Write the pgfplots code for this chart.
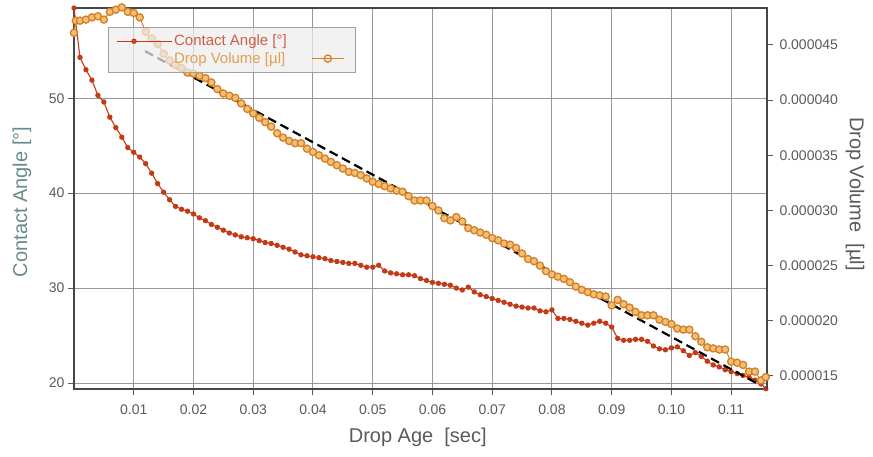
\documentclass[border=0pt]{standalone}
\usepackage{pgfplots}
\pgfplotsset{compat=1.18}
\usepackage{fontspec}
\setmainfont{Liberation Sans}
\definecolor{ca}{RGB}{196,58,22}
\definecolor{catext}{RGB}{205,95,70}
\definecolor{dv}{RGB}{212,128,36}
\definecolor{dvfill}{RGB}{242,190,120}
\definecolor{dvtext}{RGB}{226,160,80}
\definecolor{tickc}{RGB}{90,90,90}
\definecolor{framec}{RGB}{70,70,70}
\definecolor{gridc}{RGB}{150,150,150}
\definecolor{labc}{RGB}{105,138,138}
\begin{document}
\begin{tikzpicture}
\useasboundingbox (-74bp,-68bp) rectangle (799bp,389bp);
\begin{axis}[
  at={(0,0)}, anchor=south west,
  scale only axis, width=693bp, height=381bp,
  xmin=0, xmax=0.116, ymin=19.37, ymax=59.5,
  clip=false,
  xtick={0.01,0.02,0.03,0.04,0.05,0.06,0.07,0.08,0.09,0.10,0.11},
  xticklabels={0.01,0.02,0.03,0.04,0.05,0.06,0.07,0.08,0.09,0.10,0.11},
  ytick={20,30,40,50}, yticklabels={20,30,40,50},
  xtick pos=bottom, ytick pos=left,
  tick align=outside, major tick length=6bp,
  tick style={tickc, line width=1bp},
  grid=major, major grid style={gridc, line width=1bp},
  axis line style={framec, line width=1.3bp},
  ticklabel style={font=\fontsize{14bp}{16bp}\selectfont, text=tickc},
  xticklabel style={yshift=-6bp},
  xlabel={Drop Age\ \ [sec]},
  ylabel={Contact Angle [°]},
  xlabel style={font=\fontsize{20bp}{24bp}\selectfont, text=tickc, at={(axis description cs:0.496,-0.126)}, anchor=center},
  ylabel style={font=\fontsize{20bp}{24bp}\selectfont, text=labc, at={(axis description cs:-0.075,0.491)}, anchor=center},
]
\addplot[ca, line width=1.1bp, mark=*, mark size=2.1bp, mark options={fill=ca, draw=ca}] coordinates {
(0.000,59.5)(0.001,54.3)(0.002,53.0)(0.003,51.9)(0.004,50.3)(0.005,49.6)(0.006,48.0)(0.007,46.9)(0.008,45.9)(0.009,44.8)(0.010,44.3)(0.011,43.8)(0.012,43.1)(0.013,42.1)(0.014,41.0)(0.015,40.1)(0.016,39.3)(0.017,38.6)(0.018,38.3)(0.019,38.1)(0.020,37.8)(0.021,37.4)(0.022,37.1)(0.023,36.7)(0.024,36.4)(0.025,36.1)(0.026,35.8)(0.027,35.6)(0.028,35.4)(0.029,35.3)(0.030,35.2)(0.031,35.0)(0.032,34.8)(0.033,34.7)(0.034,34.5)(0.035,34.3)(0.036,34.1)(0.037,33.8)(0.038,33.5)(0.039,33.4)(0.040,33.3)(0.041,33.2)(0.042,33.1)(0.043,32.9)(0.044,32.8)(0.045,32.7)(0.046,32.6)(0.047,32.6)(0.048,32.4)(0.049,32.2)(0.050,32.2)(0.051,32.4)(0.052,31.8)(0.053,31.6)(0.054,31.5)(0.055,31.4)(0.056,31.4)(0.057,31.3)(0.058,31.0)(0.059,30.8)(0.060,30.6)(0.061,30.5)(0.062,30.4)(0.063,30.3)(0.064,30.0)(0.065,29.8)(0.066,30.1)(0.067,29.6)(0.068,29.3)(0.069,29.1)(0.070,28.9)(0.071,28.7)(0.072,28.5)(0.073,28.3)(0.074,28.1)(0.075,28.0)(0.076,27.9)(0.077,27.9)(0.078,27.6)(0.079,27.5)(0.080,27.7)(0.081,26.8)(0.082,26.8)(0.083,26.7)(0.084,26.5)(0.085,26.3)(0.086,26.1)(0.087,26.3)(0.088,26.5)(0.089,26.3)(0.090,25.9)(0.091,24.7)(0.092,24.5)(0.093,24.5)(0.094,24.6)(0.095,24.6)(0.096,24.4)(0.097,23.9)(0.098,23.6)(0.099,23.5)(0.100,23.7)(0.101,23.8)(0.102,23.4)(0.103,22.9)(0.104,23.2)(0.105,22.8)(0.106,22.3)(0.107,21.9)(0.108,21.7)(0.109,21.4)(0.110,21.2)(0.111,21.0)(0.112,20.8)(0.113,20.6)(0.114,20.3)(0.115,19.9)(0.1158,19.4)
};
\end{axis}
\begin{axis}[
  at={(0,0)}, anchor=south west,
  scale only axis, width=693bp, height=381bp,
  xmin=0, xmax=0.116, ymin=13.82, ymax=48.35,
  clip=false,
  axis x line=none,
  axis y line*=right,
  ytick={15,20,25,30,35,40,45},
  yticklabels={0.000015,0.000020,0.000025,0.000030,0.000035,0.000040,0.000045},
  tick align=outside, major tick length=6bp,
  tick style={tickc, line width=1bp},
  axis line style={framec, line width=1.3bp},
  ticklabel style={font=\fontsize{14bp}{16bp}\selectfont, text=tickc},
  yticklabel style={xshift=3bp},
  ylabel={Drop Volume\ \ [µl]},
  ylabel style={font=\fontsize{20bp}{24bp}\selectfont, text=tickc, rotate=180, at={(axis description cs:1.127,0.512)}, anchor=center},
  legend columns=2,
  legend cell align=left,
  legend style={at={(axis description cs:0.049,0.950)}, anchor=north west,
    fill=gray!14, fill opacity=0.72, text opacity=1, draw=gray!75, line width=1bp,
    font=\fontsize{15bp}{17bp}\selectfont, inner xsep=8bp, inner ysep=5bp,
    /tikz/every even column/.append style={column sep=23bp},
    nodes={inner xsep=1.5bp, inner ysep=2.5bp}},
]
\addlegendimage{ca, line width=1.1bp, mark=*, mark size=2.1bp, mark options={fill=ca, draw=ca},
  legend image code/.code={\draw[ca, line width=1.2bp, mark repeat=2,mark phase=2] plot coordinates {(0bp,0bp)(17bp,0bp)(34bp,0bp)};\path (0bp,0bp) -- (55bp,0bp);}}
\addlegendentry[text=catext]{Contact Angle [°]}
\addlegendimage{empty legend}
\addlegendentry{\mbox{}}
\addlegendimage{empty legend}
\addlegendentry[text=dvtext]{Drop Volume [µl]}
\addlegendimage{dv, line width=1bp, mark=o, mark size=3.6bp, mark options={fill=dvfill, draw=dv, line width=1.3bp},
  legend image code/.code={\draw[dv, line width=1bp, mark repeat=2,mark phase=2] plot coordinates {(0bp,0bp)(16bp,0bp)(32bp,0bp)};}}
\addlegendentry{\mbox{}}
\addplot[dv, line width=1bp, mark=*, mark size=3.6bp, mark options={fill=dvfill, draw=dv, line width=1.3bp}, forget plot] coordinates {
(0.0000,46.1)(0.0003,47.2)(0.001,47.2)(0.002,47.3)(0.003,47.5)(0.004,47.6)(0.005,47.3)(0.006,48.0)(0.007,48.2)(0.008,48.4)(0.009,48.0)(0.010,47.9)(0.011,47.5)(0.012,46.2)(0.013,45.6)(0.014,45.1)(0.015,44.2)(0.016,43.6)(0.017,43.2)(0.018,42.9)(0.019,42.5)(0.020,42.4)(0.021,42.2)(0.022,42.0)(0.023,41.6)(0.024,41.0)(0.025,40.6)(0.026,40.4)(0.027,40.2)(0.028,39.7)(0.029,39.2)(0.030,38.8)(0.031,38.4)(0.032,38.0)(0.033,37.6)(0.034,37.0)(0.035,36.6)(0.036,36.3)(0.037,36.1)(0.038,36.1)(0.039,35.6)(0.040,35.3)(0.041,35.0)(0.042,34.7)(0.043,34.4)(0.044,34.1)(0.045,33.8)(0.046,33.5)(0.047,33.4)(0.048,33.2)(0.049,32.9)(0.050,32.6)(0.051,32.4)(0.052,32.2)(0.053,32.0)(0.054,31.8)(0.055,31.7)(0.056,31.3)(0.057,30.9)(0.058,30.9)(0.059,30.9)(0.060,30.4)(0.061,30.0)(0.062,29.3)(0.063,29.1)(0.064,29.4)(0.065,29.0)(0.066,28.4)(0.067,28.2)(0.068,28.0)(0.069,27.8)(0.070,27.5)(0.071,27.3)(0.072,27.0)(0.073,26.9)(0.074,26.6)(0.075,26.1)(0.076,25.6)(0.077,25.4)(0.078,25.0)(0.079,24.5)(0.080,24.2)(0.081,24.0)(0.082,23.8)(0.083,23.5)(0.084,23.1)(0.085,22.8)(0.086,22.6)(0.087,22.4)(0.088,22.3)(0.089,22.2)(0.090,21.4)(0.091,21.9)(0.092,21.5)(0.093,21.2)(0.094,20.8)(0.095,20.5)(0.096,20.5)(0.097,20.5)(0.098,20.1)(0.099,19.9)(0.100,19.7)(0.101,19.3)(0.102,19.2)(0.103,19.2)(0.104,18.6)(0.105,18.1)(0.106,17.6)(0.107,17.5)(0.108,17.4)(0.109,17.4)(0.110,16.3)(0.111,16.2)(0.112,16.0)(0.113,15.4)(0.114,15.4)(0.115,14.6)(0.1158,14.9)
};
\addplot[black, line width=2.2bp, dash pattern=on 9bp off 5bp, forget plot] coordinates {(0.0119,44.44) (0.1142,14.37)};
\end{axis}
\end{tikzpicture}
\end{document}
